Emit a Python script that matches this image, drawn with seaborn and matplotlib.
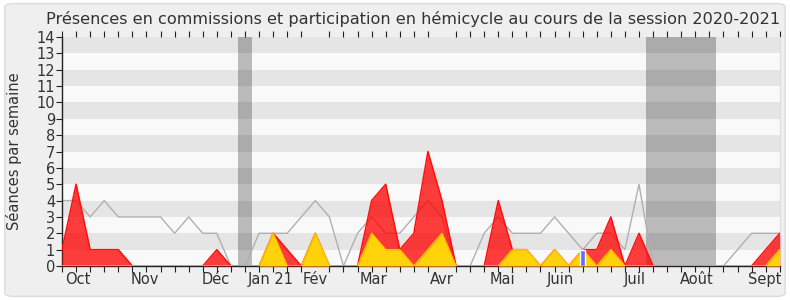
import numpy as np
import pandas as pd
import matplotlib
matplotlib.use("Agg")
import matplotlib.pyplot as plt
from matplotlib.patches import FancyBboxPatch
import seaborn as sns

weeks = list(range(52))
commission = [1,5,1,1,1,0,0,0,0,0,0,1,
              0,0,0,2,1,0,2,0,0,0,
              4,5,1,2,7,4,0,0,0,4,
              1,1,0,1,0,1,1,3,0,2,
              0,0,0,0,0,0,0,0,1,2]
hemicycle = [0,0,0,0,0,0,0,0,0,0,0,0,
             0,0,0,2,0,0,2,0,0,0,
             2,1,1,0,1,2,0,0,0,0,
             1,1,0,1,0,1,0,1,0,0,
             0,0,0,0,0,0,0,0,0,1]
mediane = [4,4,3,4,3,3,3,3,2,3,2,2,
           0,0,2,2,2,3,4,3,0,2,
           3,2,2,3,4,3,0,0,2,3,
           2,2,2,3,2,1,2,2,1,5,
           0,0,0,0,0,0,1,2,2,2]
questions_week = [37]
questions_val = [1]
vacances = [(12.5, 13.5), (41.5, 46.5)]
month_pos = [1.14, 5.9, 10.9, 14.8, 18.0, 22.1, 27.0, 31.3, 35.4, 40.7, 45.1, 49.9]
month_labels = ["Oct", "Nov", "Déc", "Jan 21", "Fév", "Mar", "Avr", "Mai", "Juin", "Juil", "Août", "Sept"]

df = pd.DataFrame({"semaine": weeks, "commission": commission,
                   "hemicycle": hemicycle, "mediane": mediane})

sns.set_style("white")
plt.rcParams['font.family'] = ['DejaVu Sans']

fig = plt.figure(figsize=(7.9, 3.0), dpi=100, facecolor="white")
bg = FancyBboxPatch((0.006, 0.012), 0.988, 0.976, boxstyle="round,pad=0,rounding_size=0.012",
                    transform=fig.transFigure, facecolor="#efefef", edgecolor="#dcdcdc",
                    linewidth=1, zorder=-10)
fig.patches.append(bg)

ax = fig.add_axes([0.0785, 0.1133, 0.9085, 0.7634])
ax.set_facecolor("#f9f9f9")

# horizontal stripes
for k in range(1, 14, 2):
    ax.axhspan(k, k + 1, color="#e5e5e5", zorder=0, lw=0)

# vacation bands
for a, b in vacances:
    ax.axvspan(a, b, color="black", alpha=0.25, lw=0, zorder=1)

# median line
sns.lineplot(data=df, x="semaine", y="mediane", color="#b0b0b0", lw=1, ax=ax, zorder=2)

# commission area
ax.fill_between(df["semaine"], 0, df["commission"], color="#ff0000", alpha=0.76, lw=0, zorder=3)
sns.lineplot(data=df, x="semaine", y="commission", color="#ff1010", lw=1.1, ax=ax, zorder=4)

# hemicycle area
ax.fill_between(df["semaine"], 0, df["hemicycle"], color="#ffd20a", lw=0, zorder=5)
sns.lineplot(data=df, x="semaine", y="hemicycle", color="#ffc400", lw=1, ax=ax, zorder=6)

# questions bar
ax.bar(questions_week, questions_val, width=0.35, color="#6b6bff", zorder=7)

ax.set_xlim(0, 51)
ax.set_ylim(0, 14)
ax.set_yticks(range(0, 15))
ax.set_xticks(month_pos)
ax.set_xticklabels(month_labels)
ax.set_xticks(weeks, minor=True)
ax.tick_params(axis="x", which="major", length=0, labelsize=10.5, colors="#333333", pad=4)
ax.tick_params(axis="x", which="minor", bottom=True, top=True, length=4, width=0.8, color="#222222", direction="out")
ax.tick_params(axis="y", which="major", left=True, length=4, width=0.8, color="#222222",
               labelsize=10.5, labelcolor="#333333", pad=1)
ax.set_xlabel("")
ax.set_ylabel("Séances par semaine", fontsize=10.5, color="#333333")
ax.yaxis.set_label_coords(-0.056, 0.5)
fig.text(0.5234, 0.937, "Présences en commissions et participation en hémicycle au cours de la session 2020-2021",
         fontsize=11.6, color="#333333", ha="center", va="center")

for s in ["left", "bottom"]:
    ax.spines[s].set_color("#222222")
    ax.spines[s].set_linewidth(1)
for s in ["top", "right"]:
    ax.spines[s].set_color("#dddddd")
    ax.spines[s].set_linewidth(0.8)
ax.spines["top"].set_visible(False)

fig.savefig("out.png", dpi=100, facecolor="white")
